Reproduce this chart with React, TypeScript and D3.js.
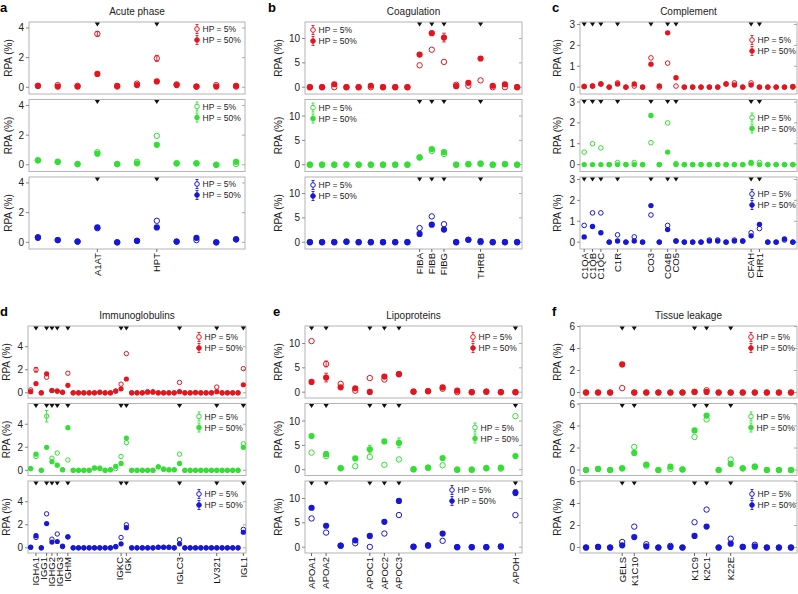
import React from "react";
import * as d3 from "d3";

// colours of the three conditions
const RED = "#e3161f";
const GREEN = "#33df33";
const BLUE = "#1717d4";
const FONT = "'Liberation Sans', Arial, Helvetica, sans-serif";

// a - Acute phase
const acuteCount = 11;
const acuteLabels: [number, string][] = [[3, "A1AT"], [6, "HPT"]];
const acuteRed5 = [0.1, 0.15, 0.1, 3.6, 0.05, 0.25, 1.95, 0.2, 0.05, 0.15, 0.05];
const acuteRed50 = [0.1, 0.05, 0.05, 0.9, 0.1, 0.15, 0.4, 0.15, 0.05, 0.05, 0.1];
const acuteGreen5 = [0.3, 0.2, 0.05, 0.85, 0.05, 0.2, 1.95, 0.1, 0.1, 0.0, 0.05];
const acuteGreen50 = [0.3, 0.2, 0.05, 0.75, 0.05, 0.1, 1.35, 0.1, 0.1, 0.0, 0.2];
const acuteBlue5 = [0.35, 0.15, 0.05, 0.95, 0.0, 0.1, 1.45, 0.05, 0.15, 0.0, 0.2];
const acuteBlue50 = [0.3, 0.15, 0.05, 1.0, 0.0, 0.1, 1.0, 0.05, 0.3, 0.0, 0.2];

// b - Coagulation
const coagCount = 18;
const coagLabels: [number, string][] = [[9, "FIBA"], [10, "FIBB"], [11, "FIBG"], [14, "THRB"]];
const coagRed5 = [0, 0, 0, 0, 0, 0, 0, 0, 0, 4.5, 7.7, 5.2, 0.5, 0.3, 1.4, 0, 0, 0];
const coagRed50 = [0, 0, 0.6, 0, 0, 0.3, 0, 0, 0, 6.7, 11.1, 10.2, 0.2, 0.9, 5.9, 0.3, 0.6, 0];
const coagGreen5 = [0, 0, 0, 0, 0, 0, 0, 0, 0, 1.5, 2.8, 2.2, 0, 0.1, 0.2, 0, 0.1, 0];
const coagGreen50 = [0, 0, 0, 0, 0, 0, 0, 0, 0, 1.5, 3.2, 2.6, 0, 0.1, 0.2, 0, 0.1, 0];
const coagBlue5 = [0, 0, 0, 0.1, 0, 0, 0, 0, 0, 2.9, 5.3, 3.7, 0, 0.5, 0, 0, 0, 0];
const coagBlue50 = [0, 0, 0, 0.1, 0, 0, 0, 0, 0, 1.7, 3.6, 2.6, 0, 0.5, 0.2, 0, 0, 0];

// c - Complement
const compCount = 26;
const compLabels: [number, string][] = [
  [0, "C1QA"], [1, "C1QB"], [2, "C1QC"], [4, "C1R"], [8, "CO3"],
  [10, "CO4B"], [11, "CO5"], [20, "CFAH"], [21, "FHR1"],
];
const compRed5 = [0.03, 0.05, 0.15, 0, 0.2, 0, 0.05, 0, 1.4, 0, 1.15, 0.05, 0, 0, 0, 0, 0, 0.15, 0.2, 0, 0.2, 0, 0, 0, 0, 0];
const compRed50 = [0.03, 0.05, 0.15, 0, 0.15, 0, 0.15, 0, 1.1, 0.05, 2.6, 0.45, 0, 0, 0, 0, 0, 0.15, 0.1, 0, 0.1, 0, 0, 0, 0, 0.03];
const compGreen5 = [0.6, 1.0, 0.8, 0, 0.1, 0, 0.1, 0, 1.05, 0, 2.0, 0.05, 0, 0, 0, 0, 0, 0, 0, 0, 0.05, 0.1, 0, 0, 0, 0];
const compGreen50 = [0, 0, 0, 0, 0, 0, 0, 0, 2.35, 0, 0.6, 0, 0, 0, 0, 0, 0, 0, 0, 0, 0.1, 0, 0, 0, 0, 0];
const compBlue5 = [0.8, 1.4, 1.4, 0, 0.35, 0, 0.25, 0, 1.3, 0, 0.8, 0.05, 0, 0, 0, 0.1, 0.1, 0, 0.1, 0.05, 0.45, 0.65, 0, 0, 0.1, 0];
const compBlue50 = [0.25, 0.75, 0.45, 0, 0.05, 0, 0.05, 0, 1.75, 0, 0.6, 0.05, 0, 0, 0, 0.05, 0.05, 0, 0.05, 0.05, 0.3, 0.85, 0, 0, 0.15, 0];

// d - Immunoglobulins
const igCount = 41;
const igLabels: [number, string][] = [
  [1, "IGHA1"], [3, "IGG1"], [4, "IGHG2"], [5, "IGHG3"], [7, "IGHM"],
  [17, "IGKC"], [18, "IGK"], [28, "IGLC3"], [35, "LV321"], [40, "IGL1"],
];
const igRed5 = [0.25, 2.0, 0, 1.35, 0.2, 0.15, 0.05, 1.7, 0, 0, 0, 0, 0, 0.05, 0, 0, 0.15, 0.75, 3.4, 0, 0, 0, 0.1, 0.1, 0, 0, 0, 0, 0.9, 0, 0, 0, 0, 0, 0, 0.5, 0, 0, 0, 0, 2.1];
const igRed50 = [0.1, 0.8, 0, 1.65, 0.2, 0.15, 0.05, 0.65, 0, 0, 0, 0, 0, 0.05, 0, 0, 0.15, 0.35, 1.2, 0, 0, 0, 0.05, 0.05, 0, 0, 0, 0, 0.1, 0, 0, 0.05, 0, 0, 0, 0.1, 0, 0, 0, 0, 0.7];
const igGreen5 = [0.15, 1.2, 0, 4.7, 1.05, 1.5, 0.05, 0.9, 0, 0, 0, 0, 0.2, 0.2, 0, 0.05, 0.15, 1.2, 2.4, 0, 0, 0, 0, 0, 0.3, 0.1, 0.05, 0.05, 1.4, 0, 0, 0, 0, 0, 0, 0, 0, 0, 0, 0, 2.3];
const igGreen50 = [0.15, 1.4, 0, 2.0, 0.75, 0.45, 0.05, 3.7, 0, 0, 0, 0, 0.2, 0.15, 0, 0.05, 0.35, 0.6, 2.8, 0, 0, 0, 0, 0, 0.3, 0.1, 0.05, 0.05, 0.6, 0, 0, 0, 0, 0, 0, 0, 0, 0, 0, 0, 2.0];
const igBlue5 = [0.05, 0.9, 0, 2.95, 0.75, 1.2, 0.1, 0.95, 0, 0, 0, 0, 0, 0, 0, 0, 0.1, 0.9, 2.0, 0, 0, 0, 0, 0, 0.05, 0.05, 0.05, 0, 0.7, 0, 0, 0, 0, 0, 0, 0, 0, 0, 0, 0, 1.6];
const igBlue50 = [0.05, 1.05, 0, 2.1, 0.5, 0.55, 0.15, 0.95, 0, 0, 0, 0, 0, 0, 0, 0, 0.1, 0.35, 1.75, 0, 0, 0, 0, 0, 0.05, 0.05, 0.05, 0, 0.35, 0, 0, 0, 0, 0, 0, 0, 0, 0, 0, 0, 1.35];

// e - Lipoproteins
const lipoCount = 15;
const lipoLabels: [number, string][] = [
  [0, "APOA1"], [1, "APOA2"], [4, "APOC1"], [5, "APOC2"], [6, "APOC3"], [14, "APOH"],
];
const lipoRed5 = [10.5, 5.8, 1.7, 0.3, 2.9, 2.6, 3.7, 0.1, 0.2, 0.7, 0, 0, 0.1, 0, 0];
const lipoRed50 = [2.1, 3.0, 1.0, 0.8, 0.05, 3.2, 3.7, 0.1, 0.2, 1.0, 0.3, 0, 0.1, 0, 0];
const lipoGreen5 = [3.5, 2.8, 0.3, 0.7, 2.6, 1.0, 2.1, 0.05, 0.4, 0.9, 0, 0, 0.3, 0.2, 11.0];
const lipoGreen50 = [6.9, 3.2, 0.3, 2.3, 4.2, 5.8, 5.5, 0.1, 0.4, 2.4, 0, 0, 0.3, 0.4, 2.8];
const lipoBlue5 = [5.9, 3.0, 0.3, 0.8, 0.05, 2.8, 6.6, 0.05, 0.4, 1.3, 0, 0, 0, 0.1, 6.6];
const lipoBlue50 = [8.1, 4.4, 0.3, 1.4, 2.3, 5.2, 9.5, 0.1, 0.3, 2.8, 0, 0, 0, 0.15, 11.2];

// f - Tissue leakage
const tissueCount = 18;
const tissueLabels: [number, string][] = [[3, "GELS"], [4, "K1C10"], [9, "K1C9"], [10, "K2C1"], [12, "K22E"]];
const tissueRed5 = [0, 0, 0, 0.4, 0, 0, 0, 0, 0, 0.05, 0.2, 0, 0, 0, 0, 0, 0, 0];
const tissueRed50 = [0, 0, 0, 2.55, 0, 0, 0, 0, 0, 0.05, 0.05, 0, 0, 0, 0, 0, 0, 0];
const tissueGreen5 = [0, 0.1, 0, 0.15, 2.1, 0.4, 0, 0.1, 0.05, 3.0, 4.6, 0, 0.95, 0.15, 0.3, 0, 0, 0];
const tissueGreen50 = [0, 0.1, 0, 0.15, 1.55, 0.5, 0, 0.3, 0.05, 3.6, 4.95, 0, 0.55, 0.15, 0.3, 0, 0, 0];
const tissueBlue5 = [0, 0.05, 0, 0.5, 1.9, 0.3, 0, 0.15, 0, 2.3, 3.45, 0, 0.8, 0.05, 0.25, 0, 0, 0];
const tissueBlue50 = [0, 0.05, 0, 0.2, 0.95, 0.1, 0, 0.05, 0, 1.05, 1.9, 0, 0.35, 0.05, 0.1, 0, 0, 0];

// visible error bars: panel, row (0 red,1 green,2 blue), HP 5 or 50, index, +/- value
const errorBars: [string, number, number, number, number][] = [
  ["a", 0, 5, 3, 0.15], ["a", 0, 5, 6, 0.2],
  ["b", 0, 50, 11, 0.9], ["b", 0, 50, 10, 0.3],
  ["d", 1, 5, 3, 0.5], ["d", 0, 5, 1, 0.2],
  ["e", 0, 5, 1, 0.6], ["e", 0, 50, 1, 0.9], ["e", 1, 50, 1, 0.5],
  ["e", 1, 50, 4, 0.8], ["e", 1, 50, 6, 1.0], ["e", 2, 50, 14, 0.6],
];

const COLORS = [RED, GREEN, BLUE];
const SUB_H = 72;
const SUB_STEP = 77.5;
const LABEL_GAP = 7.8;

const panels = [
  { id: "a", title: "Acute phase", count: acuteCount, labels: acuteLabels, left: 29, right: 245, top: 22, pad: 0.45,
    domain: [-0.45, 4.4], ticks: [0, 2, 4], r: 3.1, ylabX: 8, letterX: 0,
    rows: [[acuteRed5, acuteRed50], [acuteGreen5, acuteGreen50], [acuteBlue5, acuteBlue50]],
    legend: [[197, 7], [197, 7], [197, 7]] },
  { id: "b", title: "Coagulation", count: coagCount, labels: coagLabels, left: 305, right: 522, top: 22, pad: 0.4,
    domain: [-1.4, 13.4], ticks: [0, 5, 10], r: 3.1, ylabX: 278, letterX: 268,
    rows: [[coagRed5, coagRed50], [coagGreen5, coagGreen50], [coagBlue5, coagBlue50]],
    legend: [[313, 8], [313, 8], [313, 8]] },
  { id: "c", title: "Complement", count: compCount, labels: compLabels, left: 580, right: 797, top: 22, pad: 0.5,
    domain: [-0.33, 3.12], ticks: [0, 1, 2, 3], r: 2.7, ylabX: 557, letterX: 552,
    rows: [[compRed5, compRed50], [compGreen5, compGreen50], [compBlue5, compBlue50]],
    legend: [[752, 18], [752, 18], [752, 17]] },
  { id: "d", title: "Immunoglobulins", count: igCount, labels: igLabels, left: 28, right: 246, top: 326, pad: 0.5,
    domain: [-0.45, 5.8], ticks: [0, 2, 4], r: 2.6, ylabX: 6, letterX: 0,
    rows: [[igRed5, igRed50], [igGreen5, igGreen50], [igBlue5, igBlue50]],
    legend: [[199, 11], [199, 13], [199, 13]] },
  { id: "e", title: "Lipoproteins", count: lipoCount, labels: lipoLabels, left: 305, right: 522, top: 326, pad: 0.45,
    domain: [-1.2, 13.6], ticks: [0, 5, 10], r: 3.1, ylabX: 278, letterX: 273,
    rows: [[lipoRed5, lipoRed50], [lipoGreen5, lipoGreen50], [lipoBlue5, lipoBlue50]],
    legend: [[473, 11], [475, 24], [452, 9]] },
  { id: "f", title: "Tissue leakage", count: tissueCount, labels: tissueLabels, left: 580, right: 797, top: 326, pad: 0.5,
    domain: [-0.5, 6.05], ticks: [0, 2, 4, 6], r: 3.1, ylabX: 557, letterX: 552,
    rows: [[tissueRed5, tissueRed50], [tissueGreen5, tissueGreen50], [tissueBlue5, tissueBlue50]],
    legend: [[751, 11], [751, 13], [752, 13]] },
];

function LegendItem({ x, y, color, hollow, text }: any) {
  return (
    <g>
      <line x1={x} x2={x} y1={y - 4.5} y2={y + 4.5} stroke={color} strokeWidth={0.9} />
      <line x1={x - 1.5} x2={x + 1.5} y1={y - 4.5} y2={y - 4.5} stroke={color} strokeWidth={0.9} />
      <line x1={x - 1.5} x2={x + 1.5} y1={y + 4.5} y2={y + 4.5} stroke={color} strokeWidth={0.9} />
      <circle cx={x} cy={y} r={2.3} fill={hollow ? "#fff" : color} stroke={color} strokeWidth={1} />
      <text x={x + 5.5} y={y + 3} fontSize={8.5} fill="#222">{text}</text>
    </g>
  );
}

// push crowded axis labels apart a little, as the original figure does
function spreadLabels(xs: number[]) {
  const pos = xs.slice();
  for (let it = 0; it < 60; it++) {
    for (let k = 1; k < pos.length; k++) {
      const diff = pos[k] - pos[k - 1];
      if (diff < LABEL_GAP) {
        const s = (LABEL_GAP - diff) / 2;
        pos[k - 1] -= s;
        pos[k] += s;
      }
    }
  }
  return pos;
}

function Panel({ p }: any) {
  const idx = d3.range(p.count);
  const x = d3.scalePoint<number>().domain(idx).range([p.left, p.right]).padding(p.pad);
  const marked = new Set(p.labels.map((l: [number, string]) => l[0]));
  const lastBottom = p.top + 2 * SUB_STEP + SUB_H;
  const labelX = spreadLabels(p.labels.map((l: [number, string]) => x(l[0])!));

  return (
    <g>
      <text x={p.letterX} y={p.top - 10} fontSize={13} fontWeight="bold" fill="#000">{p.id}</text>
      <text x={(p.left + p.right) / 2} y={p.top - 7} fontSize={10} textAnchor="middle" fill="#222">{p.title}</text>
      {p.rows.map((row: number[][], ri: number) => {
        const top = p.top + ri * SUB_STEP;
        const y = d3.scaleLinear().domain(p.domain).range([top + SUB_H, top]);
        const color = COLORS[ri];
        const errs = errorBars.filter((e) => e[0] === p.id && e[1] === ri);
        const [lx, ly] = p.legend[ri];
        return (
          <g key={ri}>
            <rect x={p.left} y={top} width={p.right - p.left} height={SUB_H} fill="none" stroke="#b4b4b4" strokeWidth={1} />
            {p.ticks.map((t: number) => (
              <g key={t}>
                <line x1={p.left - 3} x2={p.left} y1={y(t)} y2={y(t)} stroke="#888" />
                <line x1={p.right - 3} x2={p.right} y1={y(t)} y2={y(t)} stroke="#aaa" />
                <text x={p.left - 5} y={y(t)} dy="0.35em" fontSize={10} textAnchor="end" fill="#222">{t}</text>
              </g>
            ))}
            <text transform={`translate(${p.ylabX},${top + SUB_H / 2}) rotate(-90)`} fontSize={10}
              textAnchor="middle" dy="0.35em" fill="#222">RPA (%)</text>
            {idx.filter((i) => marked.has(i)).map((i) => (
              <path key={i} d={`M${x(i)! - 2.6},${top + 0.5}L${x(i)! + 2.6},${top + 0.5}L${x(i)!},${top + 4.5}Z`} fill="#111" />
            ))}
            {errs.map((e, k) => {
              const v = (e[2] === 5 ? row[0] : row[1])[e[3]];
              const cx = x(e[3])!;
              return (
                <g key={"e" + k} stroke={color} strokeWidth={0.9}>
                  <line x1={cx} x2={cx} y1={y(v - e[4])} y2={y(v + e[4])} />
                  <line x1={cx - 1.8} x2={cx + 1.8} y1={y(v - e[4])} y2={y(v - e[4])} />
                  <line x1={cx - 1.8} x2={cx + 1.8} y1={y(v + e[4])} y2={y(v + e[4])} />
                </g>
              );
            })}
            {row[1].map((v, i) => (
              <circle key={"f" + i} cx={x(i)} cy={y(v)} r={p.r} fill={color} />
            ))}
            {row[0].map((v, i) => (
              <circle key={"h" + i} cx={x(i)} cy={y(v)} r={p.r - 0.4} fill="none" stroke={color} strokeWidth={1} />
            ))}
            <LegendItem x={lx} y={top + ly} color={color} hollow text="HP = 5%" />
            <LegendItem x={lx} y={top + ly + 11} color={color} hollow={false} text="HP = 50%" />
          </g>
        );
      })}
      {p.labels.map(([i, name]: [number, string], k: number) => (
        <g key={name}>
          <line x1={x(i)} x2={x(i)} y1={lastBottom} y2={lastBottom + 3} stroke="#666" />
          <text transform={`translate(${labelX[k]},${lastBottom + 4}) rotate(-90)`} fontSize={9.5}
            textAnchor="end" dy="0.35em" fill="#111">{name}</text>
        </g>
      ))}
    </g>
  );
}

export default function App() {
  return (
    <svg width={798} height={594} style={{ position: "absolute", left: 0, top: 0, background: "#fff" }}
      fontFamily={FONT}>
      {panels.map((p) => <Panel key={p.id} p={p} />)}
    </svg>
  );
}
